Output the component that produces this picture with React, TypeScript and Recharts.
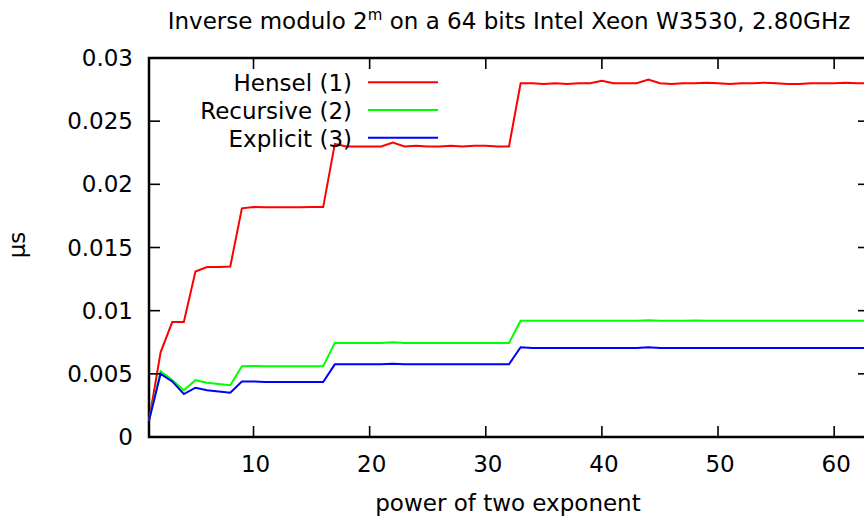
import React from 'react';
import { LineChart, Line, XAxis, YAxis, Legend, ReferenceArea } from 'recharts';

const exponents = [
  1, 2, 3, 4, 5, 6, 7, 8, 9, 10, 11, 12, 13, 14, 15, 16, 17, 18, 19, 20, 21,
  22, 23, 24, 25, 26, 27, 28, 29, 30, 31, 32, 33, 34, 35, 36, 37, 38, 39, 40, 41, 42,
  43, 44, 45, 46, 47, 48, 49, 50, 51, 52, 53, 54, 55, 56, 57, 58, 59, 60, 61, 62, 63,
];

const hensel = [
  0.0013, 0.0067, 0.0091, 0.0091, 0.0131, 0.01345, 0.01345, 0.0135, 0.0181, 0.0182,
  0.01818, 0.01818, 0.01818, 0.01818, 0.0182, 0.0182, 0.0232, 0.023, 0.023, 0.023,
  0.023, 0.0233, 0.023, 0.02305, 0.023, 0.023, 0.02305, 0.023, 0.02305, 0.02305,
  0.023, 0.023, 0.028, 0.028, 0.02795, 0.028, 0.02795, 0.028, 0.028, 0.0282,
  0.028, 0.028, 0.028, 0.0283, 0.028, 0.02795, 0.028, 0.028, 0.02805, 0.028,
  0.02795, 0.028, 0.028, 0.02805, 0.028, 0.02795, 0.02795, 0.028, 0.028, 0.028,
  0.02805, 0.028, 0.028,
];

const recursive = [
  0.0013, 0.0052, 0.0045, 0.0037, 0.0045, 0.0043, 0.0042, 0.0041, 0.0056, 0.00562,
  0.0056, 0.0056, 0.0056, 0.0056, 0.0056, 0.0056, 0.00745, 0.00745, 0.00745, 0.00745,
  0.00745, 0.0075, 0.00745, 0.00745, 0.00745, 0.00745, 0.00745, 0.00745, 0.00745, 0.00745,
  0.00745, 0.00745, 0.0092, 0.0092, 0.0092, 0.0092, 0.0092, 0.0092, 0.0092, 0.0092,
  0.0092, 0.0092, 0.0092, 0.00925, 0.0092, 0.0092, 0.0092, 0.00922, 0.0092, 0.0092,
  0.0092, 0.0092, 0.0092, 0.0092, 0.0092, 0.0092, 0.0092, 0.0092, 0.0092, 0.0092,
  0.0092, 0.0092, 0.0092,
];

const explicit = [
  0.0013, 0.005, 0.0044, 0.0034, 0.0039, 0.0037, 0.0036, 0.0035, 0.0044, 0.0044,
  0.00435, 0.00435, 0.00435, 0.00435, 0.00435, 0.00435, 0.00575, 0.00575, 0.00575, 0.00575,
  0.00575, 0.0058, 0.00575, 0.00575, 0.00575, 0.00575, 0.00575, 0.00575, 0.00575, 0.00575,
  0.00575, 0.00575, 0.0071, 0.00705, 0.00705, 0.00705, 0.00705, 0.00705, 0.00705, 0.00705,
  0.00705, 0.00705, 0.00705, 0.0071, 0.00705, 0.00705, 0.00705, 0.00705, 0.00705, 0.00705,
  0.00705, 0.00705, 0.00705, 0.00705, 0.00705, 0.00705, 0.00705, 0.00705, 0.00705, 0.00705,
  0.00705, 0.00705, 0.00705,
];

const seriesNames = ['Hensel (1)', 'Recursive (2)', 'Explicit (3)'];
const xTicks = [10, 20, 30, 40, 50, 60];
const yTicks = [0, 0.005, 0.01, 0.015, 0.02, 0.025, 0.03];

const data = exponents.map((m, i) => ({
  m,
  hensel: hensel[i],
  recursive: recursive[i],
  explicit: explicit[i],
}));

const FONT = "'DejaVu Sans', sans-serif";
const FS = 23;
const CHART_W = 900;
const MARGIN = { top: 58, right: 31, bottom: 0, left: 0 };
const PLOT_TOP = MARGIN.top;
const PLOT_RIGHT = CHART_W - MARGIN.right;
const TICK_LEN = 11;
const X_TICK_MARGIN = 19;
const Y_TICK_MARGIN = 16;

// gnuplot style: inward ticks on all four sides
const XTick = (props: any) => {
  const { x, y, payload } = props;
  const axisY = y - X_TICK_MARGIN;
  return (
    <g>
      <line x1={x} x2={x} y1={axisY} y2={axisY - TICK_LEN} stroke="#000" strokeWidth={1.6} />
      <line x1={x} x2={x} y1={PLOT_TOP} y2={PLOT_TOP + TICK_LEN} stroke="#000" strokeWidth={1.6} />
      <text x={x + 2} y={y + 16} textAnchor="middle" fontSize={FS} fontFamily={FONT} fill="#000">
        {payload.value}
      </text>
    </g>
  );
};

const YTick = (props: any) => {
  const { x, y, payload } = props;
  const axisX = x + Y_TICK_MARGIN;
  return (
    <g>
      <line x1={axisX} x2={axisX + TICK_LEN} y1={y} y2={y} stroke="#000" strokeWidth={1.6} />
      <line x1={PLOT_RIGHT - TICK_LEN} x2={PLOT_RIGHT} y1={y} y2={y} stroke="#000" strokeWidth={1.6} />
      <text x={x} y={y + 8} textAnchor="end" fontSize={FS} fontFamily={FONT} fill="#000">
        {payload.value}
      </text>
    </g>
  );
};

const renderLegend = (props: any) => {
  const payload = props.payload || [];
  const items = seriesNames
    .map((name) => payload.find((p: any) => p.value === name))
    .filter(Boolean);
  return (
    <svg width={460} height={160}>
      {items.map((p: any, i: number) => {
        const y = 82.3 + i * 27.7;
        return (
          <g key={p.value}>
            <text x={352} y={y + 9} textAnchor="end" fontSize={FS} fontFamily={FONT} fill="#000">
              {p.value}
            </text>
            <line x1={368} x2={438} y1={y} y2={y} stroke={p.color} strokeWidth={2} />
          </g>
        );
      })}
    </svg>
  );
};

const App = () => (
  <div style={{ position: 'absolute', left: 0, top: 0, width: 864, height: 517, overflow: 'hidden', background: '#fff' }}>
    <svg width={864} height={40} style={{ position: 'absolute', left: 0, top: 0 }}>
      <text x={509} y={29} textAnchor="middle" fontSize={FS} fontFamily={FONT} fill="#000">
        Inverse modulo 2
        <tspan fontSize={15} dy={-9}>m</tspan>
        <tspan dy={9}> on a 64 bits Intel Xeon W3530, 2.80GHz</tspan>
      </text>
    </svg>
    <LineChart width={CHART_W} height={517} data={data} margin={MARGIN}>
      <XAxis
        dataKey="m"
        type="number"
        domain={[1, 63]}
        ticks={xTicks}
        tick={<XTick />}
        tickSize={0}
        tickMargin={X_TICK_MARGIN}
        tickLine={false}
        axisLine={false}
        height={80}
        label={{
          content: ({ viewBox }: any) => (
            <text x={viewBox.x + viewBox.width / 2 - 1} y={viewBox.y + 74} textAnchor="middle" fontSize={FS} fontFamily={FONT} fill="#000">
              power of two exponent
            </text>
          ),
        }}
      />
      <YAxis
        type="number"
        domain={[0, 0.03]}
        ticks={yTicks}
        tick={<YTick />}
        tickSize={0}
        tickMargin={Y_TICK_MARGIN}
        tickLine={false}
        axisLine={false}
        width={149}
        label={{
          content: ({ viewBox }: any) => (
            <text
              x={viewBox.x + 25}
              y={245}
              transform={`rotate(-90, ${viewBox.x + 25}, 245)`}
              textAnchor="middle"
              fontSize={FS}
              fontFamily={FONT}
              fill="#000"
            >
              µs
            </text>
          ),
        }}
      />
      <Legend
        layout="horizontal"
        verticalAlign="middle"
        align="center"
        wrapperStyle={{ left: 0, top: 0, width: 460, height: 160 }}
        content={renderLegend}
      />
      <Line type="linear" dataKey="hensel" name="Hensel (1)" stroke="#ff0000" strokeWidth={2} dot={false} isAnimationActive={false} />
      <Line type="linear" dataKey="recursive" name="Recursive (2)" stroke="#00ff00" strokeWidth={2} dot={false} isAnimationActive={false} />
      <Line type="linear" dataKey="explicit" name="Explicit (3)" stroke="#0000ff" strokeWidth={2} dot={false} isAnimationActive={false} />
      <ReferenceArea x1={1} x2={63} y1={0} y2={0.03} fill="none" stroke="#000" strokeWidth={2.5} strokeOpacity={1} fillOpacity={0} />
    </LineChart>
  </div>
);

export default App;
